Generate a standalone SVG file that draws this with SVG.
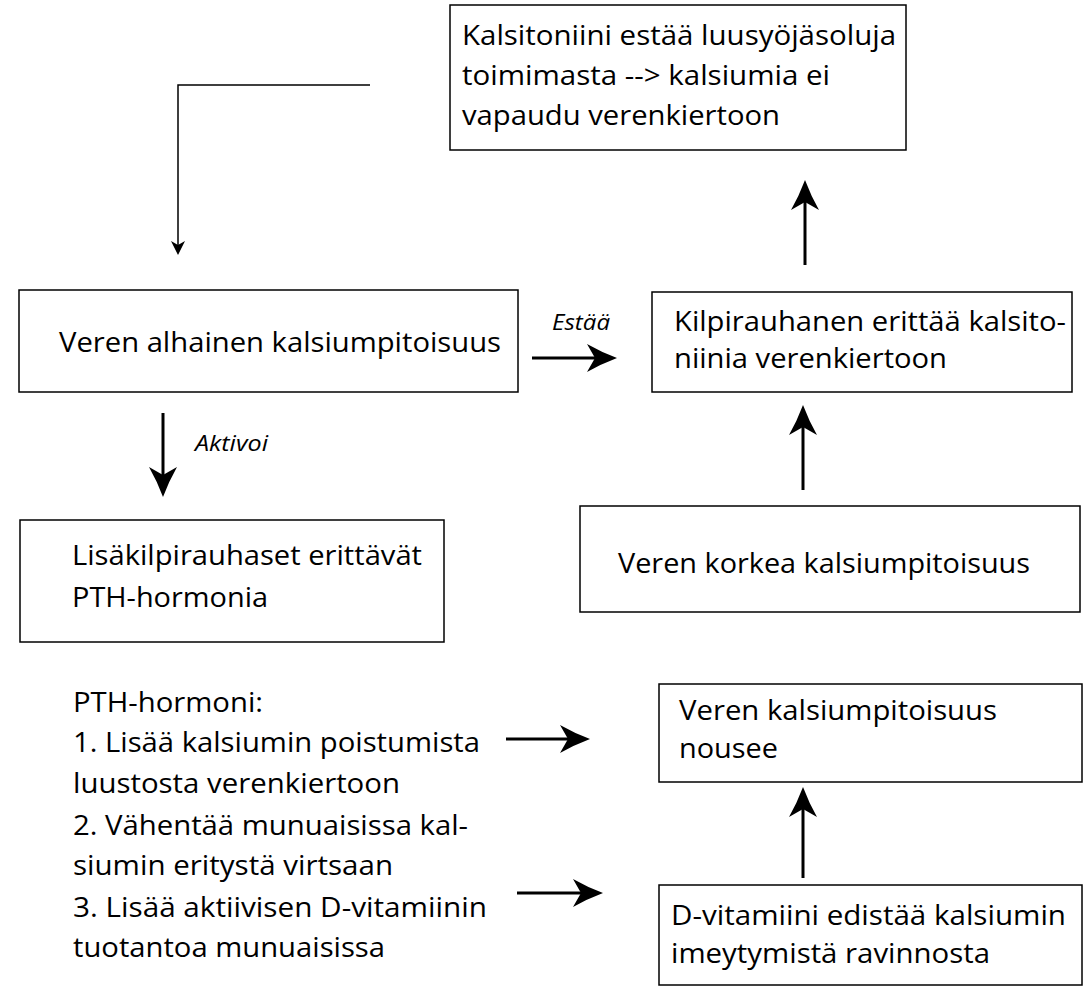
<svg xmlns="http://www.w3.org/2000/svg" width="1089" height="994" viewBox="0 0 1089 994">
<style>
.box{fill:#fff;stroke:#000;stroke-width:1.5}
.t{font-family:"Open Sans","Liberation Sans",sans-serif;font-size:27px;fill:#000}
.lbl{font-family:"Open Sans","Liberation Sans",sans-serif;font-size:21px;font-style:italic;fill:#000}
.thick{stroke:#000;stroke-width:3;fill:none}
.thin{stroke:#000;stroke-width:1.5;fill:none}
</style>
<defs>
<marker id="big" markerUnits="userSpaceOnUse" viewBox="0 0 30 28" refX="8" refY="14" markerWidth="30" markerHeight="28" orient="auto">
<path d="M0,0 Q14,8 30,14 Q14,20 0,28 L8,14 Z" fill="#000"/>
</marker>
<marker id="small" markerUnits="userSpaceOnUse" viewBox="0 0 14 14" refX="4" refY="7" markerWidth="14" markerHeight="14" orient="auto">
<path d="M0,0 L14,7 L0,14 L4,7 Z" fill="#000"/>
</marker>
</defs>
<rect width="1089" height="994" fill="#fff"/>
<g id="connectors">
<path class="thin" d="M370,85 H178 V245" marker-end="url(#small)"/>
<line class="thick" x1="805" y1="265" x2="805" y2="202" marker-end="url(#big)"/>
<line class="thick" x1="532" y1="358" x2="595" y2="358" marker-end="url(#big)"/>
<line class="thick" x1="163" y1="413" x2="163" y2="475" marker-end="url(#big)"/>
<line class="thick" x1="803" y1="490" x2="803" y2="427" marker-end="url(#big)"/>
<line class="thick" x1="506" y1="739" x2="568" y2="739" marker-end="url(#big)"/>
<line class="thick" x1="517" y1="893" x2="581" y2="893" marker-end="url(#big)"/>
<line class="thick" x1="803" y1="878" x2="803" y2="809" marker-end="url(#big)"/>
<text class="lbl" x="552" y="330" textLength="58" lengthAdjust="spacingAndGlyphs">Estää</text>
<text class="lbl" x="195" y="451" textLength="73" lengthAdjust="spacingAndGlyphs">Aktivoi</text>
</g>
<g id="n1">
<rect class="box" x="450" y="5" width="456" height="145"/>
<text class="t" x="462" y="45" textLength="434" lengthAdjust="spacingAndGlyphs">Kalsitoniini estää luusyöjäsoluja</text>
<text class="t" x="462" y="85" textLength="368" lengthAdjust="spacingAndGlyphs">toimimasta --&gt; kalsiumia ei</text>
<text class="t" x="462" y="125" textLength="318" lengthAdjust="spacingAndGlyphs">vapaudu verenkiertoon</text>
</g>
<g id="n2">
<rect class="box" x="19" y="290" width="499" height="102"/>
<text class="t" x="59" y="352" textLength="442" lengthAdjust="spacingAndGlyphs">Veren alhainen kalsiumpitoisuus</text>
</g>
<g id="n3">
<rect class="box" x="652" y="292" width="420" height="100"/>
<text class="t" x="674" y="331" textLength="392" lengthAdjust="spacingAndGlyphs">Kilpirauhanen erittää kalsito-</text>
<text class="t" x="674" y="368" textLength="273" lengthAdjust="spacingAndGlyphs">niinia verenkiertoon</text>
</g>
<g id="n4">
<rect class="box" x="20" y="520" width="424" height="122"/>
<text class="t" x="72" y="565" textLength="350" lengthAdjust="spacingAndGlyphs">Lisäkilpirauhaset erittävät</text>
<text class="t" x="72" y="607" textLength="196" lengthAdjust="spacingAndGlyphs">PTH-hormonia</text>
</g>
<g id="n5">
<rect class="box" x="580" y="506" width="500" height="106"/>
<text class="t" x="618" y="573" textLength="412" lengthAdjust="spacingAndGlyphs">Veren korkea kalsiumpitoisuus</text>
</g>
<g id="n6">
<rect class="box" x="659" y="684" width="423" height="98"/>
<text class="t" x="679" y="720" textLength="318" lengthAdjust="spacingAndGlyphs">Veren kalsiumpitoisuus</text>
<text class="t" x="679" y="758" textLength="99" lengthAdjust="spacingAndGlyphs">nousee</text>
</g>
<g id="n7">
<rect class="box" x="659" y="885" width="423" height="100"/>
<text class="t" x="671" y="925" textLength="395" lengthAdjust="spacingAndGlyphs">D-vitamiini edistää kalsiumin</text>
<text class="t" x="671" y="963" textLength="319" lengthAdjust="spacingAndGlyphs">imeytymistä ravinnosta</text>
</g>
<g id="pth-text">
<text class="t" x="73" y="712" textLength="190" lengthAdjust="spacingAndGlyphs">PTH-hormoni:</text>
<text class="t" x="73" y="752" textLength="407" lengthAdjust="spacingAndGlyphs">1. Lisää kalsiumin poistumista</text>
<text class="t" x="73" y="793" textLength="327" lengthAdjust="spacingAndGlyphs">luustosta verenkiertoon</text>
<text class="t" x="73" y="835" textLength="395" lengthAdjust="spacingAndGlyphs">2. Vähentää munuaisissa kal-</text>
<text class="t" x="73" y="875" textLength="320" lengthAdjust="spacingAndGlyphs">siumin eritystä virtsaan</text>
<text class="t" x="73" y="917" textLength="414" lengthAdjust="spacingAndGlyphs">3. Lisää aktiivisen D-vitamiinin</text>
<text class="t" x="73" y="957" textLength="312" lengthAdjust="spacingAndGlyphs">tuotantoa munuaisissa</text>
</g>
</svg>
